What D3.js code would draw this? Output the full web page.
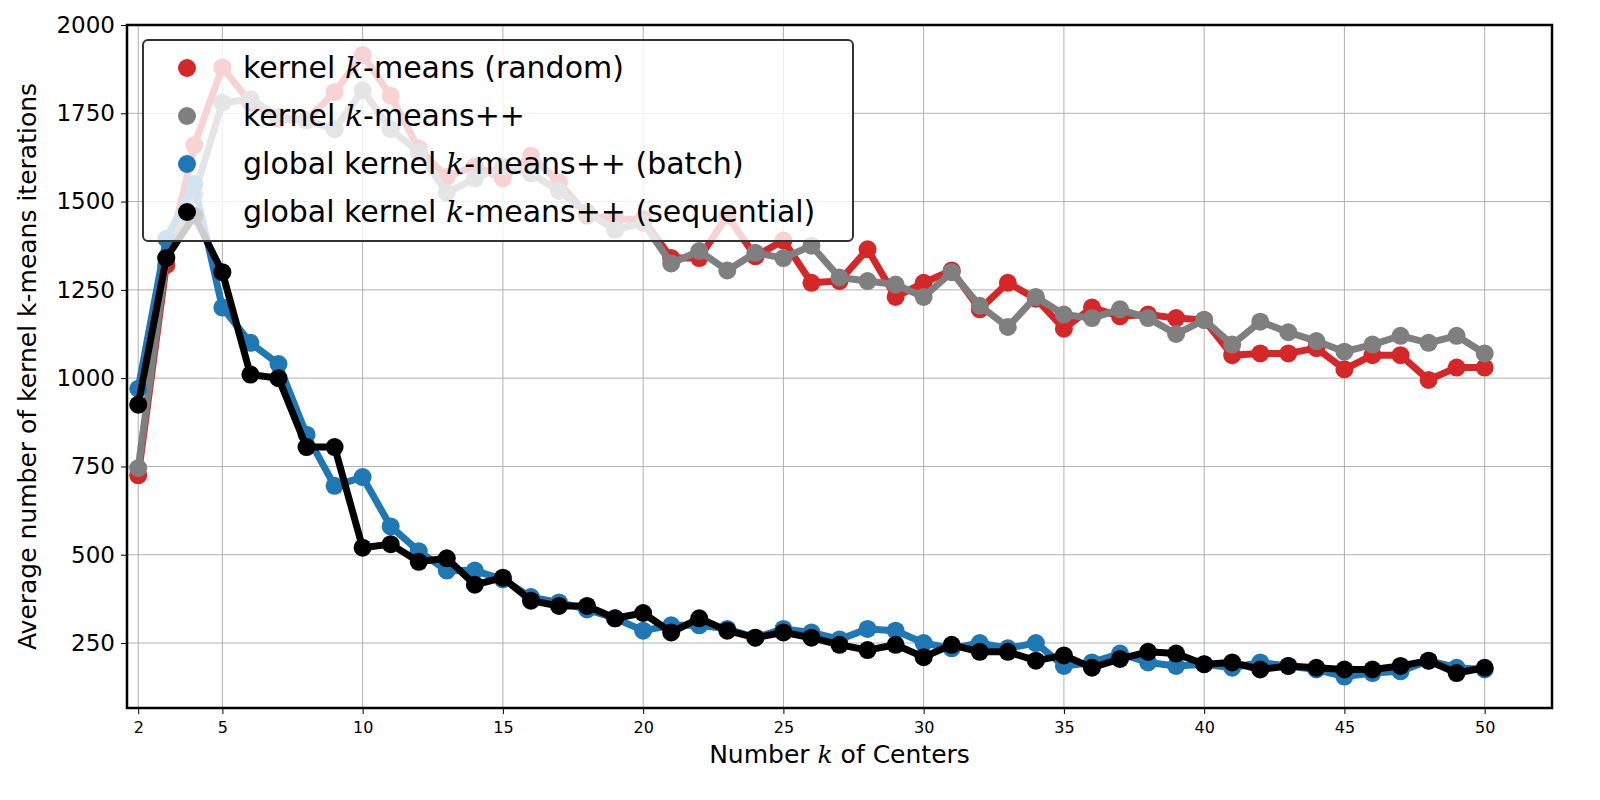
<!DOCTYPE html>
<html lang="en">
<head>
<meta charset="UTF-8">
<script src="https://d3js.org/d3.v7.min.js"></script>
<style>
html, body { margin: 0; padding: 0; overflow: hidden; background: #fff; }
svg { display: block; }
text { font-family: "DejaVu Sans", sans-serif; }
</style>
</head>
<body>
<script>
var ks = d3.range(2, 51);
var randomIters = [725,1320,1660,1880,1780,1735,1730,1810,1915,1800,1650,1570,1600,1565,1630,1555,1460,1450,1450,1340,1340,1460,1345,1390,1270,1275,1365,1230,1270,1305,1195,1270,1225,1140,1200,1175,1180,1170,1165,1065,1070,1070,1085,1025,1065,1065,995,1030,1030];
var ppIters = [745,1340,1520,1780,1790,1740,1730,1705,1815,1705,1640,1525,1565,1600,1580,1530,1470,1420,1440,1325,1360,1305,1355,1340,1375,1285,1275,1265,1230,1300,1205,1145,1230,1180,1170,1195,1170,1125,1165,1095,1160,1130,1105,1075,1095,1120,1100,1120,1070];
var batchIters = [970,1395,1550,1200,1100,1040,840,695,720,580,510,455,455,430,380,365,345,320,285,300,300,290,265,290,280,260,290,285,250,235,250,235,250,185,195,220,195,185,190,180,195,185,175,155,165,170,200,180,175];
var seqIters = [925,1340,1460,1300,1010,1000,805,805,520,530,480,490,415,435,370,355,355,320,335,280,320,285,265,280,265,245,230,245,210,245,225,225,200,215,180,205,225,220,190,195,175,185,180,175,175,185,200,165,180];
var xTicks = [2,5,10,15,20,25,30,35,40,45,50];
var yTicks = [250,500,750,1000,1250,1500,1750,2000];

var series = [
  {name: 'random', values: randomIters, color: '#d62728', pre: 'kernel ', post: '-means (random)'},
  {name: 'pp', values: ppIters, color: '#7f7f7f', pre: 'kernel ', post: '-means++'},
  {name: 'batch', values: batchIters, color: '#1f77b4', pre: 'global kernel ', post: '-means++ (batch)'},
  {name: 'seq', values: seqIters, color: '#000000', pre: 'global kernel ', post: '-means++ (sequential)'}
];

var width = 1600, height = 800;
var m = {left: 127, right: 48, top: 25, bottom: 92};

var svg = d3.select('body').append('svg')
  .attr('width', width).attr('height', height);

var x = d3.scaleLinear().domain([1.6, 52.4]).range([m.left, width - m.right]);
var y = d3.scaleLinear().domain([66, 2000]).range([height - m.bottom, m.top]);

// grid
svg.append('g').selectAll('line').data(xTicks).enter().append('line')
  .attr('x1', d => x(d)).attr('x2', d => x(d))
  .attr('y1', m.top).attr('y2', height - m.bottom)
  .attr('stroke', '#b0b0b0').attr('stroke-width', 1);
svg.append('g').selectAll('line').data(yTicks).enter().append('line')
  .attr('y1', d => y(d)).attr('y2', d => y(d))
  .attr('x1', m.left).attr('x2', width - m.right)
  .attr('stroke', '#b0b0b0').attr('stroke-width', 1);

// series
var line = d3.line().x((d, i) => x(ks[i])).y(d => y(d));
series.forEach(function(s) {
  var g = svg.append('g');
  g.append('path').datum(s.values).attr('d', line)
    .attr('fill', 'none').attr('stroke', s.color).attr('stroke-width', 7)
    .attr('stroke-linejoin', 'round');
  g.selectAll('circle').data(s.values).enter().append('circle')
    .attr('cx', (d, i) => x(ks[i])).attr('cy', d => y(d))
    .attr('r', 9).attr('fill', s.color);
});

// axes
var xAxis = svg.append('g').attr('transform', 'translate(0,' + (height - m.bottom) + ')')
  .call(d3.axisBottom(x).tickValues(xTicks).tickSize(6).tickPadding(8));
xAxis.selectAll('text').attr('font-size', 16).attr('fill', '#000');
var yAxis = svg.append('g').attr('transform', 'translate(' + m.left + ',0)')
  .call(d3.axisLeft(y).tickValues(yTicks).tickFormat(d3.format('d')).tickSize(6).tickPadding(6));
yAxis.selectAll('text').attr('font-size', 23).attr('fill', '#000');
[xAxis, yAxis].forEach(a => { a.select('.domain').remove(); a.selectAll('text').style('font-family', 'DejaVu Sans'); });

svg.append('rect').attr('x', m.left).attr('y', m.top)
  .attr('width', width - m.left - m.right).attr('height', height - m.top - m.bottom)
  .attr('fill', 'none').attr('stroke', '#000').attr('stroke-width', 2.5);

// axis labels
var xl = svg.append('text').attr('x', (m.left + width - m.right) / 2).attr('y', 763)
  .attr('text-anchor', 'middle').attr('font-size', 25);
xl.append('tspan').text('Number ');
xl.append('tspan').text('k').attr('font-style', 'italic').style('font-family', 'DejaVu Serif');
xl.append('tspan').text(' of Centers');

svg.append('text').attr('transform', 'translate(36,' + ((m.top + height - m.bottom) / 2) + ') rotate(-90)')
  .attr('text-anchor', 'middle').attr('font-size', 25)
  .text('Average number of kernel k-means iterations');

// legend
var lg = svg.append('g');
lg.append('rect').attr('x', 143).attr('y', 40).attr('width', 710).attr('height', 201)
  .attr('rx', 5).attr('fill', 'rgba(255,255,255,0.8)')
  .attr('stroke', '#333').attr('stroke-width', 2);
series.forEach(function(s, i) {
  var cy = 68 + i * 48;
  lg.append('circle').attr('cx', 187).attr('cy', cy).attr('r', 9).attr('fill', s.color);
  var t = lg.append('text').attr('x', 243).attr('y', cy + 10).attr('font-size', 30);
  t.append('tspan').text(s.pre);
  t.append('tspan').text('k').attr('font-style', 'italic').style('font-family', 'DejaVu Serif');
  t.append('tspan').text(s.post);
});
</script>
</body>
</html>
